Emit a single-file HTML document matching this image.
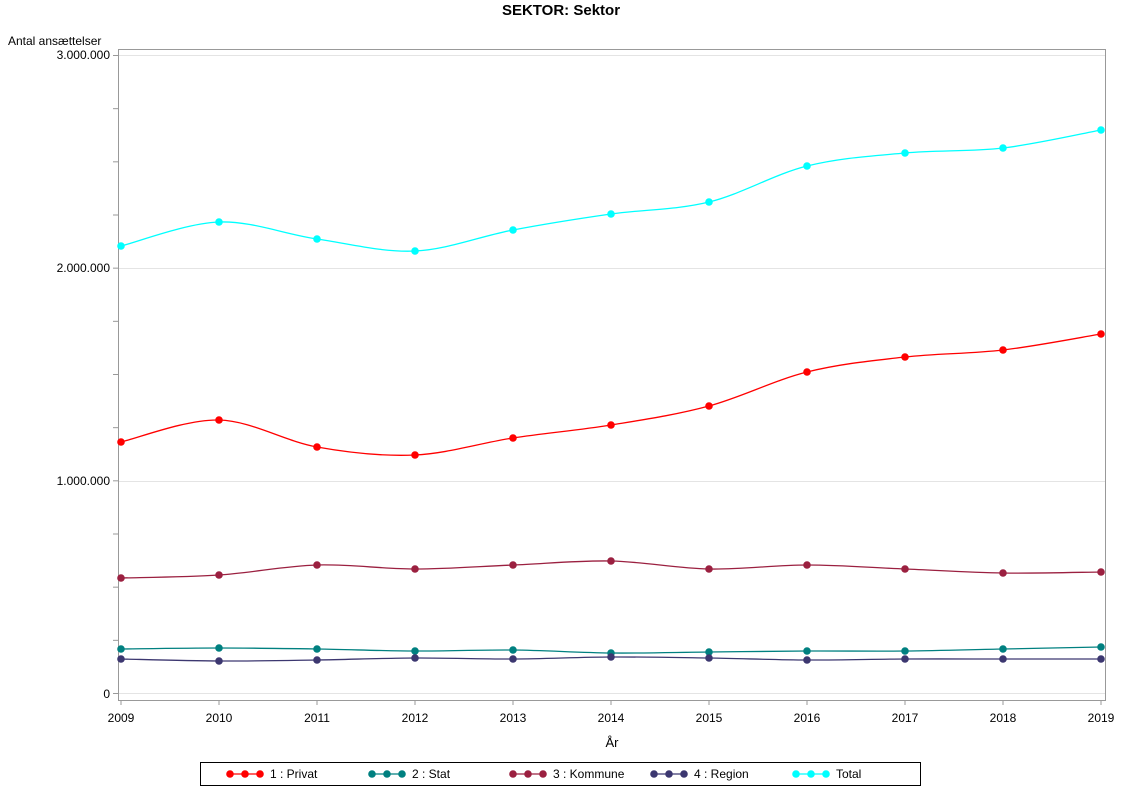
<!DOCTYPE html>
<html><head><meta charset="utf-8"><style>
html,body{margin:0;padding:0;background:#fff}
svg{display:block;font-family:"Liberation Sans",Arial,sans-serif}
</style></head><body>
<svg id="s" width="1122" height="793" viewBox="0 0 1122 793" xmlns="http://www.w3.org/2000/svg">
<rect width="1122" height="793" fill="#fff"/>
<text x="561" y="15" text-anchor="middle" font-size="15" font-weight="bold">SEKTOR: Sektor</text>
<text x="8" y="45" font-size="12">Antal ansættelser</text>
<g stroke="#e4e4e4" stroke-width="1">
<line x1="118" x2="1105" y1="55.5" y2="55.5"/>
<line x1="118" x2="1105" y1="268.5" y2="268.5"/>
<line x1="118" x2="1105" y1="481.5" y2="481.5"/>
<line x1="118" x2="1105" y1="693.5" y2="693.5"/>
</g>
<rect x="118.5" y="49.5" width="987" height="651" fill="none" stroke="#999" stroke-width="1"/>
<g id="ticks" stroke="#999"></g>
<g font-size="12" text-anchor="end">
<text x="110" y="59">3.000.000</text>
<text x="110" y="272">2.000.000</text>
<text x="110" y="485">1.000.000</text>
<text x="110" y="698">0</text>
</g>
<g id="xl" font-size="12" text-anchor="middle"></g>
<text x="612" y="747" font-size="13" text-anchor="middle">År</text>
<g id="series"></g>
<rect x="200.5" y="762.5" width="720" height="23" fill="none" stroke="#000"/>
<g id="leg" font-size="12"></g>
</svg>
<script>
var NS="http://www.w3.org/2000/svg";
function el(t,a,p){var e=document.createElementNS(NS,t);for(var k in a)e.setAttribute(k,a[k]);(p||document.getElementById('series')).appendChild(e);return e;}
var tk=document.getElementById('ticks');
for(var v=0;v<=3000000;v+=250000){var y=693.5-v/1e6*212.67;el('line',{x1:113,x2:118,y1:y,y2:y},tk);}
var xl=document.getElementById('xl');
for(var i=0;i<=10;i++){var x=121+98*i;el('line',{x1:x,x2:x,y1:700,y2:705},tk);var t=el('text',{x:x,y:722},xl);t.textContent=2009+i;}
var S=[
{c:"#ff0000",y:[442,420,447,455,438,425,406,372,357,350,334]},
{c:"#00ffff",y:[246,222,239,251,230,214,202,166,153,148,130]},
{c:"#9b2040",y:[578,575,565,569,565,561,569,565,569,573,572]},
{c:"#008080",y:[649,648,649,651,650,653,652,651,651,649,647]},
{c:"#3c3770",y:[659,661,660,658,659,657,658,660,659,659,659]}];
S.forEach(function(s){
 var p=s.y.map(function(y,i){return [121+98*i,y];});
 var d="M"+p[0][0]+","+p[0][1];
 for(var i=0;i<p.length-1;i++){
  var p0=p[i-1]||p[i],p1=p[i],p2=p[i+1],p3=p[i+2]||p[i+1];
  var c1=[p1[0]+(p2[0]-p0[0])/6,p1[1]+(p2[1]-p0[1])/6],c2=[p2[0]-(p3[0]-p1[0])/6,p2[1]-(p3[1]-p1[1])/6];
  d+=" C"+c1+" "+c2+" "+p2;}
 el('path',{d:d,fill:"none",stroke:s.c,"stroke-width":1.3});
 p.forEach(function(q){el('circle',{cx:q[0],cy:q[1],r:3.8,fill:s.c});});
});
var L=[["#ff0000","1 : Privat",230],["#008080","2 : Stat",372],["#9b2040","3 : Kommune",513],["#3c3770","4 : Region",654],["#00ffff","Total",796]];
var lg=document.getElementById('leg');
L.forEach(function(l){
 el('line',{x1:l[2],x2:l[2]+30,y1:774,y2:774,stroke:l[0],"stroke-width":1.3},lg);
 for(var k=0;k<3;k++)el('circle',{cx:l[2]+k*15,cy:774,r:3.8,fill:l[0]},lg);
 var t=el('text',{x:l[2]+40,y:778},lg);t.textContent=l[1];
});
</script>
</body></html>
